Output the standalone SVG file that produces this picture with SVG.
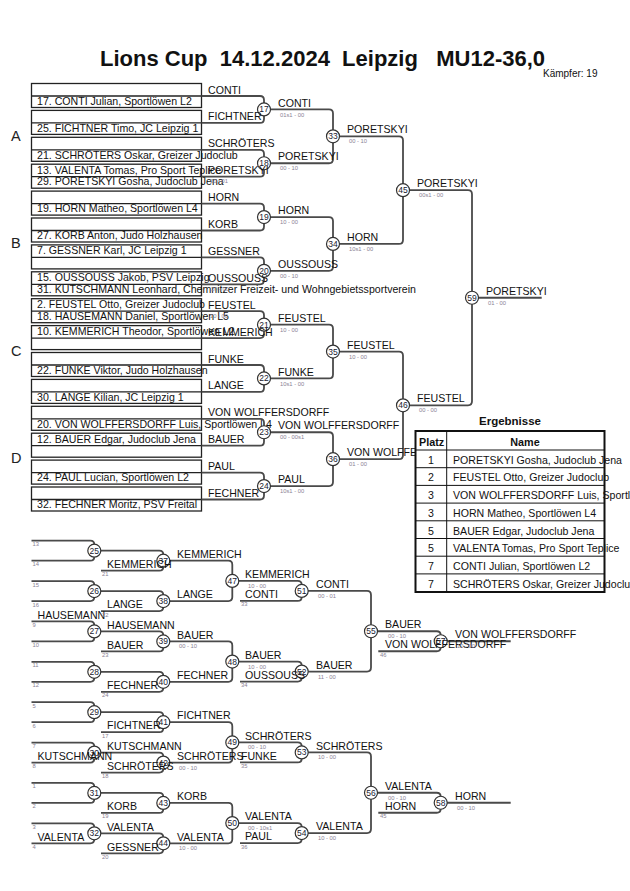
<svg xmlns="http://www.w3.org/2000/svg" width="630" height="891" viewBox="0 0 630 891">
<style>
text{font-family:"Liberation Sans",Arial,sans-serif;fill:#111}
.t{font-size:10.6px}
.s{font-size:5.8px;fill:#8a8294}
.n{font-size:8.5px;text-anchor:middle;fill:#1a1a30}
.h{font-size:14.5px;fill:#222}
.c{fill:#fff;stroke:#333;stroke-width:1.2}
.l{fill:none;stroke:#4a4a4a;stroke-width:1.8}
.b{fill:#fff;stroke:#222;stroke-width:1.3}
.bl{stroke:#222;stroke-width:1.3}
.tb{font-weight:bold;font-size:10.8px}
.tl{stroke:#111;stroke-width:1}
</style>
<rect width="630" height="891" fill="#fff"/>
<text x="100" y="65.5" xml:space="preserve" style="white-space:pre;font-weight:bold;font-size:22px">Lions Cup  14.12.2024  Leipzig   MU12-36,0</text>
<text x="543" y="77" style="font-size:10px">Kämpfer: 19</text>
<text class="h" x="11" y="141">A</text>
<text class="h" x="11" y="248">B</text>
<text class="h" x="11" y="356">C</text>
<text class="h" x="11" y="463">D</text>

<g id="entrants">
<g id="e1"><rect class="b" x="31.5" y="83.5" width="170" height="24"/><line class="bl" x1="31.5" y1="96" x2="201.5" y2="96"/><text class="t" x="37" y="104.7">17. CONTI Julian, Sportlöwen L2</text></g>
<g id="e2"><rect class="b" x="31.5" y="110.4" width="170" height="24"/><line class="bl" x1="31.5" y1="122.9" x2="201.5" y2="122.9"/><text class="t" x="37" y="131.6">25. FICHTNER Timo, JC Leipzig 1</text></g>
<g id="e3"><rect class="b" x="31.5" y="137.3" width="170" height="24"/><line class="bl" x1="31.5" y1="149.8" x2="201.5" y2="149.8"/><text class="t" x="37" y="158.5">21. SCHRÖTERS Oskar, Greizer Judoclub</text></g>
<g id="e4"><rect class="b" x="31.5" y="164.2" width="170" height="24"/><line class="bl" x1="31.5" y1="176.7" x2="201.5" y2="176.7"/><text class="t" x="37" y="173.7">13. VALENTA Tomas, Pro Sport Teplice</text><text class="t" x="37" y="185.4">29. PORETSKYI Gosha, Judoclub Jena</text></g>
<g id="e5"><rect class="b" x="31.5" y="191.1" width="170" height="24"/><line class="bl" x1="31.5" y1="203.6" x2="201.5" y2="203.6"/><text class="t" x="37" y="212.3">19. HORN Matheo, Sportlöwen L4</text></g>
<g id="e6"><rect class="b" x="31.5" y="218" width="170" height="24"/><line class="bl" x1="31.5" y1="230.5" x2="201.5" y2="230.5"/><text class="t" x="37" y="239.2">27. KORB Anton, Judo Holzhausen</text></g>
<g id="e7"><rect class="b" x="31.5" y="244.9" width="170" height="24"/><line class="bl" x1="31.5" y1="257.4" x2="201.5" y2="257.4"/><text class="t" x="37" y="254.4">7. GESSNER Karl, JC Leipzig 1</text></g>
<g id="e8"><rect class="b" x="31.5" y="271.8" width="170" height="24"/><line class="bl" x1="31.5" y1="284.3" x2="201.5" y2="284.3"/><text class="t" x="37" y="281.3">15. OUSSOUSS Jakob, PSV Leipzig</text><text class="t" x="37" y="293">31. KUTSCHMANN Leonhard, Chemnitzer Freizeit- und Wohngebietssportverein</text></g>
<g id="e9"><rect class="b" x="31.5" y="298.7" width="170" height="24"/><line class="bl" x1="31.5" y1="311.2" x2="201.5" y2="311.2"/><text class="t" x="37" y="308.2">2. FEUSTEL Otto, Greizer Judoclub</text><text class="t" x="37" y="319.9">18. HAUSEMANN Daniel, Sportlöwen L5</text></g>
<g id="e10"><rect class="b" x="31.5" y="325.6" width="170" height="24"/><line class="bl" x1="31.5" y1="338.1" x2="201.5" y2="338.1"/><text class="t" x="37" y="335.1">10. KEMMERICH Theodor, Sportlöwen L2</text></g>
<g id="e11"><rect class="b" x="31.5" y="352.5" width="170" height="24"/><line class="bl" x1="31.5" y1="365" x2="201.5" y2="365"/><text class="t" x="37" y="373.7">22. FUNKE Viktor, Judo Holzhausen</text></g>
<g id="e12"><rect class="b" x="31.5" y="379.4" width="170" height="24"/><line class="bl" x1="31.5" y1="391.9" x2="201.5" y2="391.9"/><text class="t" x="37" y="400.6">30. LANGE Kilian, JC Leipzig 1</text></g>
<g id="e13"><rect class="b" x="31.5" y="406.3" width="170" height="24"/><line class="bl" x1="31.5" y1="418.8" x2="201.5" y2="418.8"/><text class="t" x="37" y="427.5">20. VON WOLFFERSDORFF Luis, Sportlöwen L4</text></g>
<g id="e14"><rect class="b" x="31.5" y="433.2" width="170" height="24"/><line class="bl" x1="31.5" y1="445.7" x2="201.5" y2="445.7"/><text class="t" x="37" y="442.7">12. BAUER Edgar, Judoclub Jena</text></g>
<g id="e15"><rect class="b" x="31.5" y="460.1" width="170" height="24"/><line class="bl" x1="31.5" y1="472.6" x2="201.5" y2="472.6"/><text class="t" x="37" y="481.3">24. PAUL Lucian, Sportlöwen L2</text></g>
<g id="e16"><rect class="b" x="31.5" y="487" width="170" height="24"/><line class="bl" x1="31.5" y1="499.5" x2="201.5" y2="499.5"/><text class="t" x="37" y="508.2">32. FECHNER Moritz, PSV Freital</text></g>
</g>

<g id="connectors" class="l">
<path d="M201.5 96 H260 Q264 96 264 100 V118.9 Q264 122.9 260 122.9 H201.5"/>
<path d="M201.5 149.8 H260 Q264 149.8 264 153.8 V172.7 Q264 176.7 260 176.7 H201.5"/>
<path d="M201.5 203.6 H260 Q264 203.6 264 207.6 V226.5 Q264 230.5 260 230.5 H201.5"/>
<path d="M201.5 257.4 H260 Q264 257.4 264 261.4 V280.3 Q264 284.3 260 284.3 H201.5"/>
<path d="M201.5 311.2 H260 Q264 311.2 264 315.2 V334.1 Q264 338.1 260 338.1 H201.5"/>
<path d="M201.5 365 H260 Q264 365 264 369 V387.9 Q264 391.9 260 391.9 H201.5"/>
<path d="M201.5 418.8 H260 Q264 418.8 264 422.8 V441.7 Q264 445.7 260 445.7 H201.5"/>
<path d="M201.5 472.6 H260 Q264 472.6 264 476.6 V495.5 Q264 499.5 260 499.5 H201.5"/>
<path d="M264 109.45 H329 Q333 109.45 333 113.45 V159.25 Q333 163.25 329 163.25 H264"/>
<path d="M264 217.05 H329 Q333 217.05 333 221.05 V266.85 Q333 270.85 329 270.85 H264"/>
<path d="M264 324.65 H329 Q333 324.65 333 328.65 V374.45 Q333 378.45 329 378.45 H264"/>
<path d="M264 432.25 H329 Q333 432.25 333 436.25 V482.05 Q333 486.05 329 486.05 H264"/>
<path d="M333 136.35 H399 Q403 136.35 403 140.35 V239.95 Q403 243.95 399 243.95 H333"/>
<path d="M333 351.55 H399 Q403 351.55 403 355.55 V455.15 Q403 459.15 399 459.15 H333"/>
<path d="M403 190.15 H468 Q472 190.15 472 194.15 V401.35 Q472 405.35 468 405.35 H403"/>
<path d="M472 297.75 H541.7"/>

<path d="M31.5 540.7 H90.3 Q94.3 540.7 94.3 544.7 V556.7 Q94.3 560.7 90.3 560.7 H31.5"/>
<path d="M31.5 581.1 H90.3 Q94.3 581.1 94.3 585.1 V597.1 Q94.3 601.1 90.3 601.1 H31.5"/>
<path d="M31.5 621.4 H90.3 Q94.3 621.4 94.3 625.4 V637.4 Q94.3 641.4 90.3 641.4 H31.5"/>
<path d="M31.5 661.8 H90.3 Q94.3 661.8 94.3 665.8 V677.8 Q94.3 681.8 90.3 681.8 H31.5"/>
<path d="M31.5 702.2 H90.3 Q94.3 702.2 94.3 706.2 V718.2 Q94.3 722.2 90.3 722.2 H31.5"/>
<path d="M31.5 742.6 H90.3 Q94.3 742.6 94.3 746.6 V758.6 Q94.3 762.6 90.3 762.6 H31.5"/>
<path d="M31.5 782.9 H90.3 Q94.3 782.9 94.3 786.9 V798.9 Q94.3 802.9 90.3 802.9 H31.5"/>
<path d="M31.5 823.3 H90.3 Q94.3 823.3 94.3 827.3 V839.3 Q94.3 843.3 90.3 843.3 H31.5"/>

<path d="M94.3 550.7 H159.3 Q163.3 550.7 163.3 554.7 V566.7 Q163.3 570.7 159.3 570.7 H101"/>
<path d="M94.3 591.1 H159.3 Q163.3 591.1 163.3 595.1 V607.1 Q163.3 611.1 159.3 611.1 H101"/>
<path d="M94.3 631.4 H159.3 Q163.3 631.4 163.3 635.4 V647.4 Q163.3 651.4 159.3 651.4 H101"/>
<path d="M94.3 671.8 H159.3 Q163.3 671.8 163.3 675.8 V687.8 Q163.3 691.8 159.3 691.8 H101"/>
<path d="M94.3 712.2 H159.3 Q163.3 712.2 163.3 716.2 V728.2 Q163.3 732.2 159.3 732.2 H101"/>
<path d="M94.3 752.6 H159.3 Q163.3 752.6 163.3 756.6 V768.6 Q163.3 772.6 159.3 772.6 H101"/>
<path d="M94.3 792.9 H159.3 Q163.3 792.9 163.3 796.9 V808.9 Q163.3 812.9 159.3 812.9 H101"/>
<path d="M94.3 833.3 H159.3 Q163.3 833.3 163.3 837.3 V849.3 Q163.3 853.3 159.3 853.3 H101"/>

<path d="M163.3 560.7 H228.3 Q232.3 560.7 232.3 564.7 V597.1 Q232.3 601.1 228.3 601.1 H163.3"/>
<path d="M163.3 641.4 H228.3 Q232.3 641.4 232.3 645.4 V677.8 Q232.3 681.8 228.3 681.8 H163.3"/>
<path d="M163.3 722.2 H228.3 Q232.3 722.2 232.3 726.2 V758.6 Q232.3 762.6 228.3 762.6 H163.3"/>
<path d="M163.3 802.9 H228.3 Q232.3 802.9 232.3 806.9 V839.3 Q232.3 843.3 228.3 843.3 H163.3"/>

<path d="M232.3 580.9 H297.7 Q301.7 580.9 301.7 584.9 V596.9 Q301.7 600.9 297.7 600.9 H240"/>
<path d="M232.3 661.6 H297.7 Q301.7 661.6 301.7 665.6 V677.6 Q301.7 681.6 297.7 681.6 H240"/>
<path d="M232.3 742.4 H297.7 Q301.7 742.4 301.7 746.4 V758.4 Q301.7 762.4 297.7 762.4 H240"/>
<path d="M232.3 823.1 H297.7 Q301.7 823.1 301.7 827.1 V839.1 Q301.7 843.1 297.7 843.1 H240"/>

<path d="M301.7 590.9 H367 Q371 590.9 371 594.9 V667.6 Q371 671.6 367 671.6 H301.7"/>
<path d="M301.7 752.4 H367 Q371 752.4 371 756.4 V829.1 Q371 833.1 367 833.1 H301.7"/>

<path d="M371 631.25 H436.7 Q440.7 631.25 440.7 635.25 V647.25 Q440.7 651.25 436.7 651.25 H378.3"/>
<path d="M371 792.75 H436.7 Q440.7 792.75 440.7 796.75 V808.75 Q440.7 812.75 436.7 812.75 H378.3"/>
<path d="M440.7 641.25 H510.7"/>
<path d="M440.7 802.75 H510.7"/>
</g>

<g id="matches">
<g id="m17"><circle class="c" cx="264" cy="109.45" r="6.5"/><text class="n" x="264" y="112.45">17</text></g>
<g id="m18"><circle class="c" cx="264" cy="163.25" r="6.5"/><text class="n" x="264" y="166.25">18</text></g>
<g id="m19"><circle class="c" cx="264" cy="217.05" r="6.5"/><text class="n" x="264" y="220.05">19</text></g>
<g id="m20"><circle class="c" cx="264" cy="270.85" r="6.5"/><text class="n" x="264" y="273.85">20</text></g>
<g id="m21"><circle class="c" cx="264" cy="324.65" r="6.5"/><text class="n" x="264" y="327.65">21</text></g>
<g id="m22"><circle class="c" cx="264" cy="378.45" r="6.5"/><text class="n" x="264" y="381.45">22</text></g>
<g id="m23"><circle class="c" cx="264" cy="432.25" r="6.5"/><text class="n" x="264" y="435.25">23</text></g>
<g id="m24"><circle class="c" cx="264" cy="486.05" r="6.5"/><text class="n" x="264" y="489.05">24</text></g>
<g id="m33"><circle class="c" cx="333" cy="136.35" r="6.5"/><text class="n" x="333" y="139.35">33</text></g>
<g id="m34"><circle class="c" cx="333" cy="243.95" r="6.5"/><text class="n" x="333" y="246.95">34</text></g>
<g id="m35"><circle class="c" cx="333" cy="351.55" r="6.5"/><text class="n" x="333" y="354.55">35</text></g>
<g id="m36"><circle class="c" cx="333" cy="459.15" r="6.5"/><text class="n" x="333" y="462.15">36</text></g>
<g id="m45"><circle class="c" cx="403" cy="190.15" r="6.5"/><text class="n" x="403" y="193.15">45</text></g>
<g id="m46"><circle class="c" cx="403" cy="405.35" r="6.5"/><text class="n" x="403" y="408.35">46</text></g>
<g id="m59"><circle class="c" cx="472" cy="297.75" r="6.5"/><text class="n" x="472" y="300.75">59</text></g>

<g id="m25"><circle class="c" cx="94.3" cy="550.7" r="6.5"/><text class="n" x="94.3" y="553.7">25</text></g>
<g id="m26"><circle class="c" cx="94.3" cy="591.1" r="6.5"/><text class="n" x="94.3" y="594.1">26</text></g>
<g id="m27"><circle class="c" cx="94.3" cy="631.4" r="6.5"/><text class="n" x="94.3" y="634.4">27</text></g>
<g id="m28"><circle class="c" cx="94.3" cy="671.8" r="6.5"/><text class="n" x="94.3" y="674.8">28</text></g>
<g id="m29"><circle class="c" cx="94.3" cy="712.2" r="6.5"/><text class="n" x="94.3" y="715.2">29</text></g>
<g id="m30"><circle class="c" cx="94.3" cy="752.6" r="6.5"/><text class="n" x="94.3" y="755.6">30</text></g>
<g id="m31"><circle class="c" cx="94.3" cy="792.9" r="6.5"/><text class="n" x="94.3" y="795.9">31</text></g>
<g id="m32"><circle class="c" cx="94.3" cy="833.3" r="6.5"/><text class="n" x="94.3" y="836.3">32</text></g>
<g id="m37"><circle class="c" cx="163.3" cy="560.7" r="6.5"/><text class="n" x="163.3" y="563.7">37</text></g>
<g id="m38"><circle class="c" cx="163.3" cy="601.1" r="6.5"/><text class="n" x="163.3" y="604.1">38</text></g>
<g id="m39"><circle class="c" cx="163.3" cy="641.4" r="6.5"/><text class="n" x="163.3" y="644.4">39</text></g>
<g id="m40"><circle class="c" cx="163.3" cy="681.8" r="6.5"/><text class="n" x="163.3" y="684.8">40</text></g>
<g id="m41"><circle class="c" cx="163.3" cy="722.2" r="6.5"/><text class="n" x="163.3" y="725.2">41</text></g>
<g id="m42"><circle class="c" cx="163.3" cy="762.6" r="6.5"/><text class="n" x="163.3" y="765.6">42</text></g>
<g id="m43"><circle class="c" cx="163.3" cy="802.9" r="6.5"/><text class="n" x="163.3" y="805.9">43</text></g>
<g id="m44"><circle class="c" cx="163.3" cy="843.3" r="6.5"/><text class="n" x="163.3" y="846.3">44</text></g>
<g id="m47"><circle class="c" cx="232.3" cy="580.9" r="6.5"/><text class="n" x="232.3" y="583.9">47</text></g>
<g id="m48"><circle class="c" cx="232.3" cy="661.6" r="6.5"/><text class="n" x="232.3" y="664.6">48</text></g>
<g id="m49"><circle class="c" cx="232.3" cy="742.4" r="6.5"/><text class="n" x="232.3" y="745.4">49</text></g>
<g id="m50"><circle class="c" cx="232.3" cy="823.1" r="6.5"/><text class="n" x="232.3" y="826.1">50</text></g>
<g id="m51"><circle class="c" cx="301.7" cy="590.9" r="6.5"/><text class="n" x="301.7" y="593.9">51</text></g>
<g id="m52"><circle class="c" cx="301.7" cy="671.6" r="6.5"/><text class="n" x="301.7" y="674.6">52</text></g>
<g id="m53"><circle class="c" cx="301.7" cy="752.4" r="6.5"/><text class="n" x="301.7" y="755.4">53</text></g>
<g id="m54"><circle class="c" cx="301.7" cy="833.1" r="6.5"/><text class="n" x="301.7" y="836.1">54</text></g>
<g id="m55"><circle class="c" cx="371" cy="631.25" r="6.5"/><text class="n" x="371" y="634.25">55</text></g>
<g id="m56"><circle class="c" cx="371" cy="792.75" r="6.5"/><text class="n" x="371" y="795.75">56</text></g>
<g id="m57"><circle class="c" cx="440.7" cy="641.25" r="6.5"/><text class="n" x="440.7" y="644.25">57</text></g>
<g id="m58"><circle class="c" cx="440.7" cy="802.75" r="6.5"/><text class="n" x="440.7" y="805.75">58</text></g>
</g>

<g id="labels" class="t">
<text x="208" y="93.5">CONTI</text>
<text x="208" y="120.4">FICHTNER</text>
<text x="208" y="147.3">SCHRÖTERS</text>
<text x="208" y="174.2">PORETSKYI</text>
<text x="208" y="201.1">HORN</text>
<text x="208" y="228">KORB</text>
<text x="208" y="254.9">GESSNER</text>
<text x="208" y="281.8">OUSSOUSS</text>
<text x="208" y="308.7">FEUSTEL</text>
<text x="208" y="335.6">KEMMERICH</text>
<text x="208" y="362.5">FUNKE</text>
<text x="208" y="389.4">LANGE</text>
<text x="208" y="416.3">VON WOLFFERSDORFF</text>
<text x="208" y="443.2">BAUER</text>
<text x="208" y="470.1">PAUL</text>
<text x="208" y="497">FECHNER</text>
<text class="s" x="210" y="183.2">00 - 01</text>
<text class="s" x="211" y="290.8">10 - 00</text>
<text class="s" x="210" y="317.7">10 - 00</text>

<text x="278" y="106.5">CONTI</text><text class="s" x="280" y="116.5">01s1 - 00</text>
<text x="278" y="160.3">PORETSKYI</text><text class="s" x="280" y="170.3">00 - 10</text>
<text x="278" y="214">HORN</text><text class="s" x="280" y="224">10 - 00</text>
<text x="278" y="267.9">OUSSOUSS</text><text class="s" x="280" y="277.9">00 - 10</text>
<text x="278" y="321.7">FEUSTEL</text><text class="s" x="280" y="331.7">10 - 00</text>
<text x="278" y="375.5">FUNKE</text><text class="s" x="280" y="385.5">10s1 - 00</text>
<text x="278" y="429.3">VON WOLFFERSDORFF</text><text class="s" x="280" y="439.3">00 - 00s1</text>
<text x="278" y="483">PAUL</text><text class="s" x="280" y="493">10s1 - 00</text>

<text x="347" y="133.4">PORETSKYI</text><text class="s" x="349" y="143.4">00 - 10</text>
<text x="347" y="241">HORN</text><text class="s" x="349" y="251">10s1 - 00</text>
<text x="347" y="348.6">FEUSTEL</text><text class="s" x="349" y="358.6">10 - 00</text>
<text x="347" y="456.2">VON WOLFFERSDORFF</text><text class="s" x="349" y="466.2">01 - 00</text>

<text x="417" y="187.2">PORETSKYI</text><text class="s" x="419" y="197.2">00s1 - 00</text>
<text x="417" y="402.4">FEUSTEL</text><text class="s" x="419" y="412.4">00 - 00</text>
<text x="486" y="294.8">PORETSKYI</text><text class="s" x="488" y="304.8">01 - 00</text>

<text x="37.5" y="618.6">HAUSEMANN</text>
<text x="37.5" y="759.8">KUTSCHMANN</text>
<text x="37.5" y="840.5">VALENTA</text>
<text class="s" x="32.5" y="546.2">13</text><text class="s" x="32.5" y="566.2">14</text>
<text class="s" x="32.5" y="586.6">15</text><text class="s" x="32.5" y="606.6">16</text>
<text class="s" x="32.5" y="626.9">9</text><text class="s" x="32.5" y="646.9">10</text>
<text class="s" x="32.5" y="667.3">11</text><text class="s" x="32.5" y="687.3">12</text>
<text class="s" x="32.5" y="707.7">5</text><text class="s" x="32.5" y="727.7">6</text>
<text class="s" x="32.5" y="748.1">7</text><text class="s" x="32.5" y="768.1">8</text>
<text class="s" x="32.5" y="788.4">1</text><text class="s" x="32.5" y="808.4">2</text>
<text class="s" x="32.5" y="828.8">3</text><text class="s" x="32.5" y="848.8">4</text>

<text x="107" y="628.6">HAUSEMANN</text>
<text x="107" y="749.8">KUTSCHMANN</text>
<text x="107" y="830.5">VALENTA</text>
<text x="107" y="567.9">KEMMERICH</text><text class="s" x="102" y="576.2">21</text>
<text x="107" y="608.3">LANGE</text><text class="s" x="102" y="616.6">22</text>
<text x="107" y="648.6">BAUER</text><text class="s" x="102" y="656.9">23</text>
<text x="107" y="689">FECHNER</text><text class="s" x="102" y="697.3">24</text>
<text x="107" y="729.4">FICHTNER</text><text class="s" x="102" y="737.7">17</text>
<text x="107" y="769.8">SCHRÖTERS</text><text class="s" x="102" y="778.1">18</text>
<text x="107" y="810.1">KORB</text><text class="s" x="102" y="818.4">19</text>
<text x="107" y="850.5">GESSNER</text><text class="s" x="102" y="858.8">20</text>

<text x="177" y="557.9">KEMMERICH</text>
<text x="177" y="598.3">LANGE</text>
<text x="177" y="638.6">BAUER</text><text class="s" x="179" y="648.4">00 - 10</text>
<text x="177" y="679">FECHNER</text>
<text x="177" y="719.4">FICHTNER</text>
<text x="177" y="759.8">SCHRÖTERS</text><text class="s" x="179" y="769.6">00 - 10</text>
<text x="177" y="800.1">KORB</text>
<text x="177" y="840.5">VALENTA</text><text class="s" x="179" y="850.3">10 - 00</text>

<text x="245" y="578.1">KEMMERICH</text><text class="s" x="248" y="587.9">10 - 00</text>
<text x="245" y="658.8">BAUER</text><text class="s" x="248" y="668.6">10 - 00</text>
<text x="245" y="739.6">SCHRÖTERS</text><text class="s" x="248" y="749.4">00 - 10</text>
<text x="245" y="820.3">VALENTA</text><text class="s" x="248" y="830.1">00 - 10s1</text>
<text x="245" y="598.1">CONTI</text><text class="s" x="241" y="606.4">33</text>
<text x="245" y="678.8">OUSSOUSS</text><text class="s" x="241" y="687.1">34</text>
<text x="241" y="759.6">FUNKE</text><text class="s" x="241" y="767.9">35</text>
<text x="245" y="840.3">PAUL</text><text class="s" x="241" y="848.6">36</text>

<text x="316" y="588.1">CONTI</text><text class="s" x="318" y="597.9">00 - 01</text>
<text x="316" y="668.8">BAUER</text><text class="s" x="318" y="678.6">11 - 00</text>
<text x="316" y="749.6">SCHRÖTERS</text><text class="s" x="318" y="759.4">10 - 00</text>
<text x="316" y="830.3">VALENTA</text><text class="s" x="318" y="840.1">10 - 00</text>

<text x="385" y="628.45">BAUER</text><text class="s" x="388" y="638.25">00 - 10</text>
<text x="385" y="648.45">VON WOLFFERSDORFF</text><text class="s" x="380" y="656.75">46</text>
<text x="385" y="789.95">VALENTA</text><text class="s" x="388" y="799.75">00 - 10</text>
<text x="385" y="809.95">HORN</text><text class="s" x="380" y="818.25">45</text>

<text class="s" x="457" y="648.25">10 - 00</text>
<text x="455" y="638.45">VON WOLFFERSDORFF</text>
<text x="455" y="799.95">HORN</text><text class="s" x="457" y="809.75">00 - 10</text>
</g>

<g id="results">
<text x="510" y="425" text-anchor="middle" style="font-weight:bold;font-size:11.5px">Ergebnisse</text>
<rect x="415.5" y="431" width="189" height="161" fill="#fff" stroke="#111" stroke-width="2"/>
<line class="tl" x1="415.5" y1="450" x2="604.5" y2="450"/>
<line class="tl" x1="415.5" y1="467.7" x2="604.5" y2="467.7"/>
<line class="tl" x1="415.5" y1="485.4" x2="604.5" y2="485.4"/>
<line class="tl" x1="415.5" y1="503.1" x2="604.5" y2="503.1"/>
<line class="tl" x1="415.5" y1="520.8" x2="604.5" y2="520.8"/>
<line class="tl" x1="415.5" y1="538.5" x2="604.5" y2="538.5"/>
<line class="tl" x1="415.5" y1="556.2" x2="604.5" y2="556.2"/>
<line class="tl" x1="415.5" y1="573.9" x2="604.5" y2="573.9"/>
<line class="tl" x1="446.7" y1="431" x2="446.7" y2="592"/>
<text class="tb" x="419" y="446">Platz</text>
<text class="tb" x="525" y="446" text-anchor="middle">Name</text>
<g class="t">
<text x="431" y="463.7" text-anchor="middle">1</text><text x="453" y="463.7">PORETSKYI Gosha, Judoclub Jena</text>
<text x="431" y="481.4" text-anchor="middle">2</text><text x="453" y="481.4">FEUSTEL Otto, Greizer Judoclub</text>
<text x="431" y="499.1" text-anchor="middle">3</text><text x="453" y="499.1">VON WOLFFERSDORFF Luis, Sportlöwen L4</text>
<text x="431" y="516.8" text-anchor="middle">3</text><text x="453" y="516.8">HORN Matheo, Sportlöwen L4</text>
<text x="431" y="534.5" text-anchor="middle">5</text><text x="453" y="534.5">BAUER Edgar, Judoclub Jena</text>
<text x="431" y="552.2" text-anchor="middle">5</text><text x="453" y="552.2">VALENTA Tomas, Pro Sport Teplice</text>
<text x="431" y="569.9" text-anchor="middle">7</text><text x="453" y="569.9">CONTI Julian, Sportlöwen L2</text>
<text x="431" y="587.6" text-anchor="middle">7</text><text x="453" y="587.6">SCHRÖTERS Oskar, Greizer Judoclub</text>
</g>
</g>
</svg>
